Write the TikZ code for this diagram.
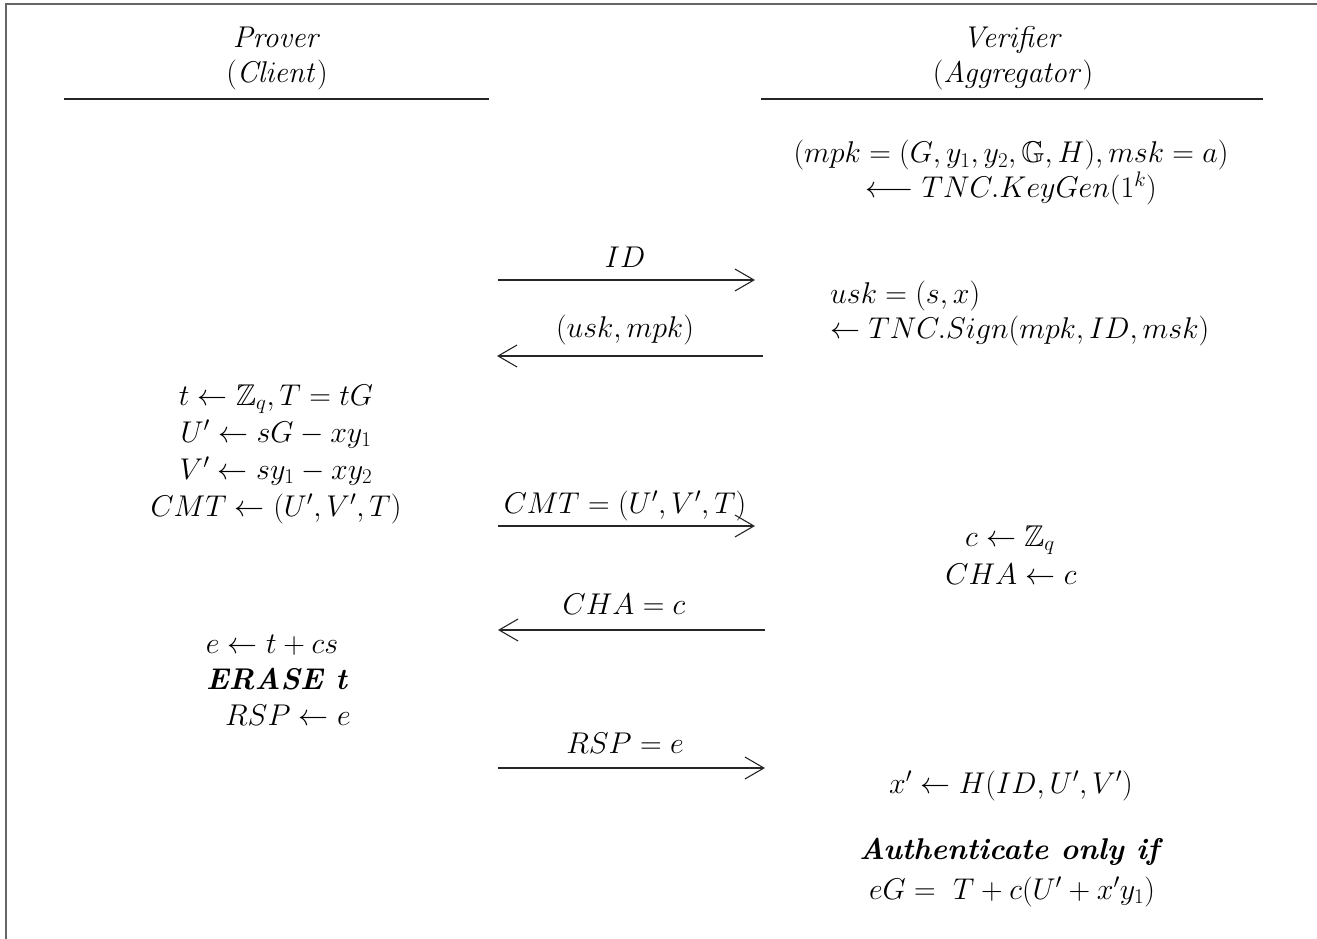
\documentclass[tikz,border=0pt]{standalone}
\usepackage{fix-cm}
\usepackage{amsmath,amssymb}
\usetikzlibrary{arrows.meta}
\begin{document}
\begin{tikzpicture}[x=1pt,y=-1pt,
  txt/.style={font=\fontsize{30}{37}\selectfont, inner sep=0pt, anchor=base},
  ltxt/.style={txt, anchor=base west},
  msg/.style={line width=1.3pt, draw=black!85, -{Straight Barb[length=19pt,width=22pt,line width=1.1pt]}},
  rule/.style={line width=1.3pt, draw=black!85},
  frame/.style={line width=1.6pt, draw=black!60}]
\useasboundingbox (0,0) rectangle (1317,939);
% frame (top and left only)
\coordinate (fTL) at (6,4);
\coordinate (fTR) at (1317,4);
\coordinate (fBL) at (6,939);
\draw[frame] (fBL) -- (fTL) -- (fTR);

% headings
\node[txt] (prover) at (277,48) {$\mathit{Prover}$};
\node[txt] (client) at (277,83) {$(\mathit{Client})$};
\node[txt] (verifier) at (1013,48) {$\mathit{Verifier}$};
\node[txt] (aggr) at (1013,83) {$(\mathit{Aggregator})$};
\coordinate (lr1) at (64,99); \coordinate (lr2) at (489,99);
\coordinate (rr1) at (761,99); \coordinate (rr2) at (1263,99);
\draw[rule] (lr1) -- (lr2);
\draw[rule] (rr1) -- (rr2);

% verifier setup
\node[txt] (keygen1) at (1011,163) {$(mpk = (G, y_1, y_2, \mathbb{G}, H), msk = a)$};
\node[txt] (keygen2) at (1011,197) {$\longleftarrow TNC.KeyGen(1^k)$};
\node[ltxt] (sign1) at (830,303) {$usk = (s, x)$};
\node[ltxt] (sign2) at (830,338) {$\leftarrow TNC.Sign(mpk, ID, msk)$};

% prover commitment
\node[txt] (p1) at (276,405) {$t \leftarrow \mathbb{Z}_q, T = tG$};
\node[txt] (p2) at (276,442) {$U' \leftarrow sG - xy_1$};
\node[txt] (p3) at (276,479) {$V' \leftarrow sy_1 - xy_2$};
\node[txt] (p4) at (276,516) {$CMT \leftarrow (U', V', T)$};

% verifier challenge
\node[txt] (v1) at (1010,546) {$c \leftarrow \mathbb{Z}_q$};
\node[txt] (v2) at (1011,584) {$CHA \leftarrow c$};

% prover response
\node[txt] (r1) at (272,653) {$e \leftarrow t + cs$};
\node[txt] (r2) at (277,689) {\textbf{\textit{ERASE t}}};
\node[txt] (r3) at (288,725) {$RSP \leftarrow e$};

% verifier check
\node[txt] (c1) at (1011,793) {$x' \leftarrow H(ID, U', V')$};
\node[txt] (c2) at (1011,859) {\textbf{\textit{Authenticate only if}}};
\node[txt] (c3) at (1012,899) {$eG =\ T + c(U' + x'y_1)$};

% messages
\coordinate (m1a) at (498,280); \coordinate (m1b) at (755,280);
\draw[msg] (m1a) -- (m1b);
\node[txt] (m1l) at (625,267) {$ID$};

\coordinate (m2a) at (763,356); \coordinate (m2b) at (497,356);
\draw[msg] (m2a) -- (m2b);
\node[txt] (m2l) at (625,337) {$(usk, mpk)$};

\coordinate (m3a) at (498,526); \coordinate (m3b) at (755,526);
\draw[msg] (m3a) -- (m3b);
\node[txt] (m3l) at (625,513) {$CMT = (U', V', T)$};

\coordinate (m4a) at (765,630); \coordinate (m4b) at (498,630);
\draw[msg] (m4a) -- (m4b);
\node[txt] (m4l) at (624,614) {$CHA = c$};

\coordinate (m5a) at (498,768); \coordinate (m5b) at (765,768);
\draw[msg] (m5a) -- (m5b);
\node[txt] (m5l) at (625,753) {$RSP = e$};
\end{tikzpicture}
\end{document}
